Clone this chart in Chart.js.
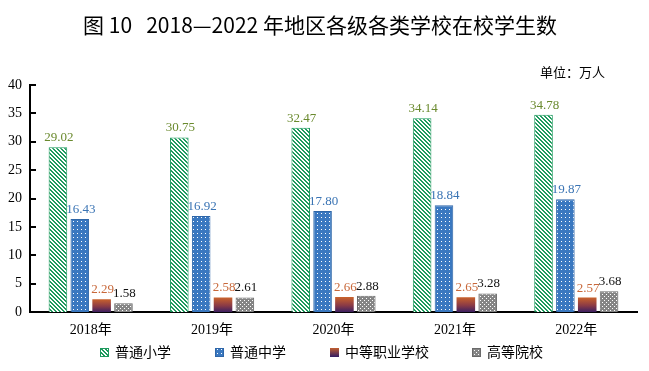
<!DOCTYPE html>
<html>
<head>
<meta charset="utf-8">
<script src="https://cdn.jsdelivr.net/npm/chart.js@4"></script>
<style>
  html, body { margin: 0; padding: 0; background: #fff; }
  #wrap { width: 649px; height: 371px; }
</style>
</head>
<body>
<div id="wrap"><canvas id="chart" width="649" height="371"></canvas></div>
<script>
const years = ["2018年", "2019年", "2020年", "2021年", "2022年"];
//students (10k) per school type
const primary = [29.02, 30.75, 32.47, 34.14, 34.78];
const middle = [16.43, 16.92, 17.80, 18.84, 19.87];
const vocational = [2.29, 2.58, 2.66, 2.65, 2.57];
const higher = [1.58, 2.61, 2.88, 3.28, 3.68];
const seriesNames = ["普通小学", "普通中学", "中等职业学校", "高等院校"];
const yTicks = [0, 5, 10, 15, 20, 25, 30, 35, 40];

const title = "图 10   2018—2022 年地区各级各类学校在校学生数";
const unitText = "单位：万人";

const serif = "'Liberation Serif', 'Noto Sans CJK SC'";
const cjk = "'Noto Sans CJK SC', 'Liberation Sans'";

//small tile canvas turned into a fill pattern
const makePattern = (size, bg, fg, pixels) => {
  const c = document.createElement("canvas");
  c.width = size;
  c.height = size;
  const g = c.getContext("2d");
  g.fillStyle = bg;
  g.fillRect(0, 0, size, size);
  g.fillStyle = fg;
  pixels.forEach(([x, y]) => g.fillRect(x, y, 1, 1));
  return g.createPattern(c, "repeat");
};

const stripes = makePattern(4, "#ffffff", "#1e9a5e", [
  [0, 0], [1, 0], [1, 1], [2, 1], [2, 2], [3, 2], [3, 3], [0, 3],
]);
const dots = makePattern(4, "#3a78c0", "#ffffff", [[1, 1]]);
const checks = makePattern(4, "#858585", "#ffffff", [[0, 0], [2, 2]]);

const ctx = document.getElementById("chart").getContext("2d");

const vocTop = "#c9622c";
const vocMid = "#8a3a46";
const vocBottom = "#3a1f62";

//vertical gradient for each vocational bar, from its top down to the axis
const vocGradient = (context) => {
  const chart = context.chart;
  if (!chart.chartArea || context.type !== "data") return vocMid;
  const y = chart.scales.y;
  const top = y.getPixelForValue(context.raw);
  const bottom = y.getPixelForValue(0);
  const grad = chart.ctx.createLinearGradient(0, top, 0, bottom);
  grad.addColorStop(0, vocTop);
  grad.addColorStop(0.55, vocMid);
  grad.addColorStop(1, vocBottom);
  return grad;
};

const labelColors = ["#6a8a2e", "#3a74b4", "#c8683a", "#111111"];
const legendStrokes = ["#1e9a5e", "#2e66a8", null, "#6a6a6a"];

//title, unit, inward y ticks, value labels and legend
const decorations = {
  id: "decorations",
  afterDraw(chart) {
    const c = chart.ctx;
    const area = chart.chartArea;
    c.save();
    c.fillStyle = "#000";
    c.textAlign = "center";
    c.textBaseline = "middle";
    c.font = "21px " + cjk;
    c.fillText(title, 320, 25);
    c.font = "13px " + cjk;
    c.textAlign = "right";
    c.fillText(unitText, 605, 72);

    const y = chart.scales.y;
    c.strokeStyle = "#000";
    c.lineWidth = 2;
    yTicks.forEach((v) => {
      const py = Math.round(y.getPixelForValue(v));
      c.beginPath();
      c.moveTo(area.left, py);
      c.lineTo(area.left + 6, py);
      c.stroke();
    });

    c.font = "13px " + serif;
    c.textAlign = "center";
    c.textBaseline = "bottom";
    chart.data.datasets.forEach((ds, i) => {
      const meta = chart.getDatasetMeta(i);
      meta.data.forEach((bar, j) => {
        c.fillStyle = labelColors[i];
        c.fillText(ds.data[j].toFixed(2), bar.x + 1, bar.y - 3);
      });
    });

    //legend row, centred under the plot
    c.font = "14px " + cjk;
    c.textAlign = "left";
    c.textBaseline = "middle";
    const box = 9;
    const gap = 6;
    const spacing = 44;
    const widths = seriesNames.map((n) => box + gap + c.measureText(n).width);
    const total = widths.reduce((a, b) => a + b, 0) + spacing * (widths.length - 1);
    let x = chart.width / 2 - 3 - total / 2;
    const ly = 352;
    const vg = c.createLinearGradient(0, ly - box / 2, 0, ly + box / 2);
    vg.addColorStop(0, vocTop);
    vg.addColorStop(1, vocBottom);
    const fills = [stripes, dots, vg, checks];
    seriesNames.forEach((name, i) => {
      const bx = Math.round(x);
      const by = Math.round(ly - box / 2);
      c.fillStyle = fills[i];
      c.fillRect(bx, by, box, box);
      if (legendStrokes[i]) {
        c.strokeStyle = legendStrokes[i];
        c.lineWidth = 1;
        c.strokeRect(bx + 0.5, by + 0.5, box - 1, box - 1);
      }
      c.fillStyle = "#000";
      c.fillText(name, bx + box + gap, ly);
      x += widths[i] + spacing;
    });
    c.restore();
  },
};

new Chart(ctx, {
  type: "bar",
  plugins: [decorations],
  data: {
    labels: years,
    datasets: [
      {
        label: seriesNames[0],
        data: primary,
        backgroundColor: stripes,
        borderColor: "#1e9a5e",
        borderWidth: 1,
      },
      {
        label: seriesNames[1],
        data: middle,
        backgroundColor: dots,
        borderColor: "#2e66a8",
        borderWidth: 1,
      },
      {
        label: seriesNames[2],
        data: vocational,
        backgroundColor: vocGradient,
        borderWidth: 0,
      },
      {
        label: seriesNames[3],
        data: higher,
        backgroundColor: checks,
        borderColor: "#6a6a6a",
        borderWidth: 1,
      },
    ],
  },
  options: {
    responsive: false,
    animation: false,
    devicePixelRatio: 1,
    layout: { padding: { top: 85, left: 0, right: 12, bottom: 22 } },
    datasets: {
      bar: { barPercentage: 0.85, categoryPercentage: 0.72 },
    },
    scales: {
      x: {
        grid: { display: false, drawTicks: false },
        border: { color: "#000", width: 2 },
        ticks: { color: "#000", font: { family: serif, size: 14 }, padding: 10 },
      },
      y: {
        min: 0,
        max: 40,
        grid: { display: false, drawTicks: false },
        border: { color: "#000", width: 2 },
        ticks: {
          stepSize: 5,
          color: "#000",
          font: { family: serif, size: 14 },
          padding: 8,
        },
      },
    },
    plugins: {
      title: { display: false },
      tooltip: { enabled: false },
      legend: { display: false },
    },
  },
});
</script>
</body>
</html>
